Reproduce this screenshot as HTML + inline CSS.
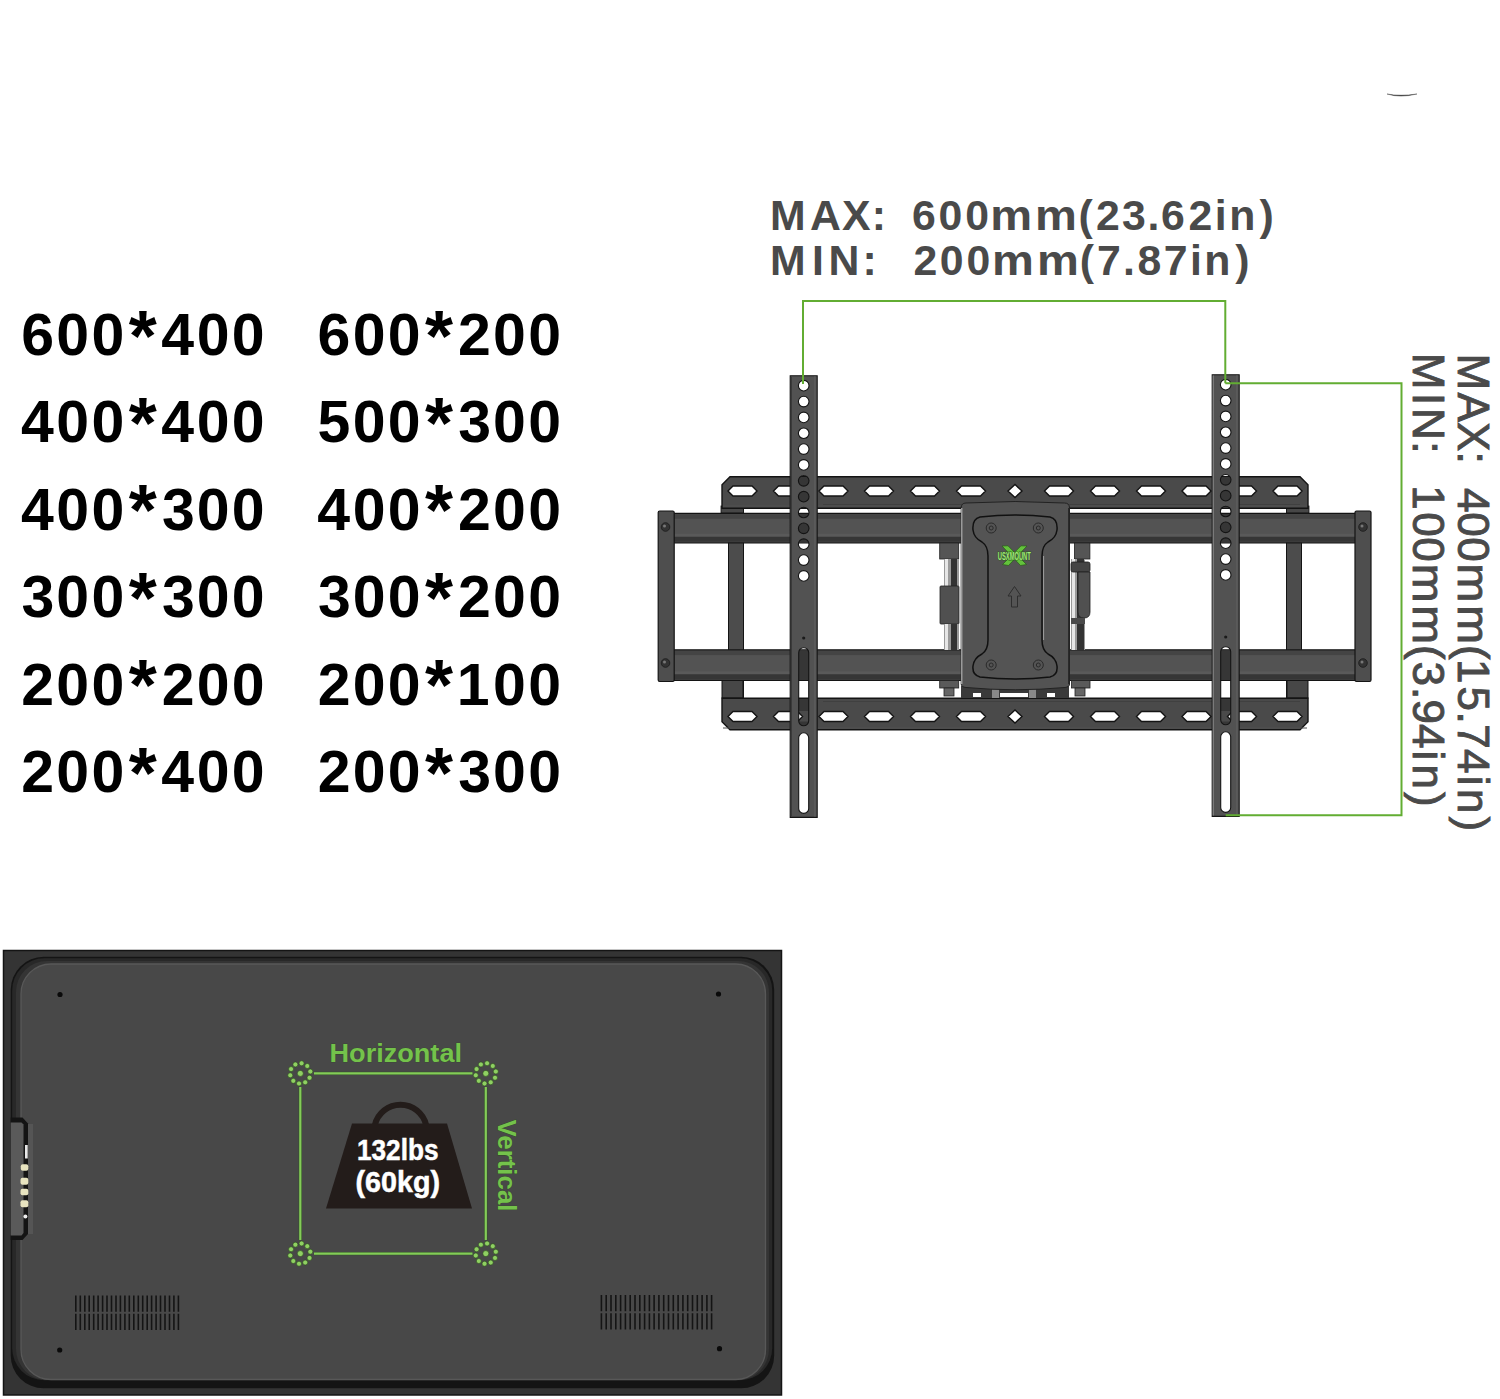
<!DOCTYPE html>
<html><head><meta charset="utf-8"><style>
html,body{margin:0;padding:0;background:#fff;width:1500px;height:1399px;overflow:hidden}
svg{position:absolute;left:0;top:0;display:block}
text{font-family:"Liberation Sans",sans-serif}
</style></head><body>
<svg width="1500" height="1399" viewBox="0 0 1500 1399">
<path d="M1387 94 Q1400 98.2 1417 94 Q1400 96.4 1387 94 Z" fill="#1e1e1e" stroke="#333" stroke-width="0.4"/>

<g font-weight="bold" fill="#000">
<text x="128.82" y="360.5" font-size="72">*</text>
<text x="21.18 56.34 91.44 161.31 196.74 231.84" y="355" font-size="59">600400</text>
<text x="425.12" y="360.5" font-size="72">*</text>
<text x="317.48 352.64 387.74 458.05 493.04 528.14" y="355" font-size="59">600200</text>
<text x="128.82" y="447.9" font-size="72">*</text>
<text x="20.91 56.34 91.44 161.31 196.74 231.84" y="442.4" font-size="59">400400</text>
<text x="425.12" y="447.9" font-size="72">*</text>
<text x="317.41 352.64 387.74 458.28 493.04 528.14" y="442.4" font-size="59">500300</text>
<text x="128.82" y="535.4" font-size="72">*</text>
<text x="20.91 56.34 91.44 161.98 196.74 231.84" y="529.9" font-size="59">400300</text>
<text x="425.12" y="535.4" font-size="72">*</text>
<text x="317.21 352.64 387.74 458.05 493.04 528.14" y="529.9" font-size="59">400200</text>
<text x="128.82" y="622.8" font-size="72">*</text>
<text x="21.58 56.34 91.44 161.98 196.74 231.84" y="617.3" font-size="59">300300</text>
<text x="425.12" y="622.8" font-size="72">*</text>
<text x="317.88 352.64 387.74 458.05 493.04 528.14" y="617.3" font-size="59">300200</text>
<text x="128.82" y="710.3" font-size="72">*</text>
<text x="21.35 56.34 91.44 161.75 196.74 231.84" y="704.8" font-size="59">200200</text>
<text x="425.12" y="710.3" font-size="72">*</text>
<text x="317.65 352.64 387.74 456.86 493.04 528.14" y="704.8" font-size="59">200100</text>
<text x="128.82" y="797.7" font-size="72">*</text>
<text x="21.35 56.34 91.44 161.31 196.74 231.84" y="792.2" font-size="59">200400</text>
<text x="425.12" y="797.7" font-size="72">*</text>
<text x="317.65 352.64 387.74 458.28 493.04 528.14" y="792.2" font-size="59">200300</text>
</g>
<g font-weight="bold" font-size="42.8" fill="#4a4a4a">
<text x="769.97 809.88 842.03 871.87 911.89 938.43 965.13 1078.53 1095.91 1122.08 1147.38 1161.09 1188.51 1214.78 1229.14 1259.62" y="229.8">MAX:600(23.62in)</text><text transform="translate(1011.30,229.8) scale(1.1,1)" x="-19.11" y="0">m</text><text transform="translate(1056.00,229.8) scale(1.1,1)" x="-19.11" y="0">m</text>
<text x="769.97 812.05 828.56 862.57 913.51 939.83 966.43 1079.83 1097.12 1123.08 1137.38 1163.82 1190.08 1204.14 1235.22" y="275.4">MIN:200(7.87in)</text><text transform="translate(1013.00,275.4) scale(1.1,1)" x="-19.11" y="0">m</text><text transform="translate(1058.00,275.4) scale(1.1,1)" x="-19.11" y="0">m</text>
</g>
<g font-size="44" fill="#4a4a4a" stroke="#4a4a4a" stroke-width="0.9">
<text transform="translate(1458,0) rotate(90) " x="353.57 392.53 421.89 451.39 487.90 512.16 537.26 644.94 658.96 686.41 711.39 724.24 748.90 775.72 788.93 816.41" y="0">MAX:400(15.74in)</text><text transform="translate(1458,0) rotate(90) translate(583.00,0) scale(1.06,1)" x="-18.34" y="0">m</text><text transform="translate(1458,0) rotate(90) translate(624.80,0) scale(1.06,1)" x="-18.34" y="0">m</text>
<text transform="translate(1413,0) rotate(90) " x="352.87 393.09 408.10 441.29 485.16 512.16 537.26 644.94 661.39 686.89 699.58 723.90 750.62 764.53 792.11" y="0">MIN:100(3.94in)</text><text transform="translate(1413,0) rotate(90) translate(583.30,0) scale(1.06,1)" x="-18.34" y="0">m</text><text transform="translate(1413,0) rotate(90) translate(624.80,0) scale(1.06,1)" x="-18.34" y="0">m</text>
</g>
<g id="mount">
<rect x="728.5" y="505" width="15" height="193" fill="#4c4c4c" stroke="#141414" stroke-width="1"/>
<rect x="1286.5" y="505" width="15" height="193" fill="#4c4c4c" stroke="#141414" stroke-width="1"/>
<rect x="722" y="680" width="21" height="18" fill="#474747" stroke="#141414" stroke-width="1"/>
<rect x="1287" y="680" width="21" height="18" fill="#474747" stroke="#141414" stroke-width="1"/>
<rect x="721" y="506" width="22.5" height="7" fill="#474747" stroke="#141414" stroke-width="0.8"/>
<rect x="1286.5" y="506" width="22.5" height="7" fill="#474747" stroke="#141414" stroke-width="0.8"/>
<path fill="#4a4a4a" stroke="#141414" stroke-width="1.4" fill-rule="evenodd" d="M730 476.8 H1300 L1308 484.8 V508.2 H722 V484.8 Z M728.0 491 L733.0 486 H752.0 L757.0 491 L752.0 496 H733.0 Z M1273.0 491 L1278.0 486 H1297.0 L1302.0 491 L1297.0 496 H1278.0 Z M773.5 491 L778.5 486 H797.5 L802.5 491 L797.5 496 H778.5 Z M1227.5 491 L1232.5 486 H1251.5 L1256.5 491 L1251.5 496 H1232.5 Z M819.0 491 L824.0 486 H843.0 L848.0 491 L843.0 496 H824.0 Z M1182.0 491 L1187.0 486 H1206.0 L1211.0 491 L1206.0 496 H1187.0 Z M864.5 491 L869.5 486 H888.5 L893.5 491 L888.5 496 H869.5 Z M1136.5 491 L1141.5 486 H1160.5 L1165.5 491 L1160.5 496 H1141.5 Z M910.5 491 L915.5 486 H934.5 L939.5 491 L934.5 496 H915.5 Z M1090.5 491 L1095.5 486 H1114.5 L1119.5 491 L1114.5 496 H1095.5 Z M956.5 491 L961.5 486 H980.5 L985.5 491 L980.5 496 H961.5 Z M1044.5 491 L1049.5 486 H1068.5 L1073.5 491 L1068.5 496 H1049.5 Z M1008 491 L1015 484.5 L1022 491 L1015 497.5 Z"/>
<path fill="#4a4a4a" stroke="#141414" stroke-width="1.4" fill-rule="evenodd" d="M722 698.2 H1308 V721.8 L1300 729.8 H730 L722 721.8 Z M728.0 716.5 L733.0 711.5 H752.0 L757.0 716.5 L752.0 721.5 H733.0 Z M1273.0 716.5 L1278.0 711.5 H1297.0 L1302.0 716.5 L1297.0 721.5 H1278.0 Z M773.5 716.5 L778.5 711.5 H797.5 L802.5 716.5 L797.5 721.5 H778.5 Z M1227.5 716.5 L1232.5 711.5 H1251.5 L1256.5 716.5 L1251.5 721.5 H1232.5 Z M819.0 716.5 L824.0 711.5 H843.0 L848.0 716.5 L843.0 721.5 H824.0 Z M1182.0 716.5 L1187.0 711.5 H1206.0 L1211.0 716.5 L1206.0 721.5 H1187.0 Z M864.5 716.5 L869.5 711.5 H888.5 L893.5 716.5 L888.5 721.5 H869.5 Z M1136.5 716.5 L1141.5 711.5 H1160.5 L1165.5 716.5 L1160.5 721.5 H1141.5 Z M910.5 716.5 L915.5 711.5 H934.5 L939.5 716.5 L934.5 721.5 H915.5 Z M1090.5 716.5 L1095.5 711.5 H1114.5 L1119.5 716.5 L1114.5 721.5 H1095.5 Z M956.5 716.5 L961.5 711.5 H980.5 L985.5 716.5 L980.5 721.5 H961.5 Z M1044.5 716.5 L1049.5 711.5 H1068.5 L1073.5 716.5 L1068.5 721.5 H1049.5 Z M1008 716.5 L1015 710.0 L1022 716.5 L1015 723.0 Z"/>
<path d="M823 504.5 H1300 M823 701.5 H1300" stroke="#404040" stroke-width="1.2"/>
<path d="M723 506 H1307 M723 728 H1307" stroke="#505050" stroke-width="1"/>
<rect x="672" y="513.4" width="685" height="29.4" fill="#535353"/>
<rect x="672" y="514.2" width="685" height="4.5" fill="#444"/>
<rect x="672" y="533.8" width="685" height="3" fill="#5a5a5a"/>
<rect x="672" y="536.8" width="685" height="5" fill="#363636"/>
<path d="M672 513.4 H1357 M672 542.8 H1357" stroke="#141414" stroke-width="1.3"/>
<rect x="672" y="649.8" width="685" height="30.5" fill="#535353"/>
<rect x="672" y="650.6" width="685" height="4.5" fill="#444"/>
<rect x="672" y="671.3" width="685" height="3" fill="#5a5a5a"/>
<rect x="672" y="674.3" width="685" height="5" fill="#363636"/>
<path d="M672 649.8 H1357 M672 680.3 H1357" stroke="#141414" stroke-width="1.3"/>
<rect x="658.2" y="511" width="16" height="170.5" rx="1.5" fill="#4e4e4e" stroke="#141414" stroke-width="1.2"/>
<rect x="1355" y="511" width="16" height="170.5" rx="1.5" fill="#4e4e4e" stroke="#141414" stroke-width="1.2"/>
<circle cx="665.5" cy="527" r="4.3" fill="#333" stroke="#1a1a1a" stroke-width="0.8"/><circle cx="664.5" cy="526" r="1.5" fill="#777"/>
<circle cx="665.5" cy="663" r="4.3" fill="#333" stroke="#1a1a1a" stroke-width="0.8"/><circle cx="664.5" cy="662" r="1.5" fill="#777"/>
<circle cx="1363" cy="527" r="4.3" fill="#333" stroke="#1a1a1a" stroke-width="0.8"/><circle cx="1362" cy="526" r="1.5" fill="#777"/>
<circle cx="1363" cy="663" r="4.3" fill="#333" stroke="#1a1a1a" stroke-width="0.8"/><circle cx="1362" cy="662" r="1.5" fill="#777"/>
<g id="hinges">
<rect x="939.7" y="543" width="19" height="16" fill="#555" stroke="#222" stroke-width="0.8"/>
<rect x="944" y="559" width="15" height="27" fill="#9a9a9a"/>
<rect x="945" y="559" width="3" height="27" fill="#e6e6e6"/>
<rect x="951" y="559" width="6" height="27" fill="#333"/>
<rect x="940" y="586" width="19" height="38" rx="1" fill="#505050" stroke="#222" stroke-width="0.8"/>
<rect x="944" y="624" width="15" height="26" fill="#9a9a9a"/>
<rect x="945" y="624" width="3" height="26" fill="#e6e6e6"/>
<rect x="951" y="624" width="6" height="26" fill="#333"/>
<rect x="939.7" y="680.5" width="19" height="7.5" fill="#5a5a5a" stroke="#222" stroke-width="0.8"/>
<rect x="944" y="688" width="10" height="8" fill="#666" stroke="#222" stroke-width="0.8"/>
<rect x="1074.4" y="543" width="15.5" height="16" fill="#555" stroke="#222" stroke-width="0.8"/>
<rect x="1071" y="559" width="14" height="91" fill="#9a9a9a"/>
<rect x="1072" y="559" width="3" height="91" fill="#e6e6e6"/>
<rect x="1077" y="559" width="7" height="91" fill="#333"/>
<rect x="1071" y="562" width="19" height="10" rx="2" fill="#444" stroke="#1e1e1e" stroke-width="0.8"/>
<path d="M1078 572 H1090 V612 Q1090 618 1084 618 Q1078 618 1078 612 Z" fill="#505050" stroke="#1e1e1e" stroke-width="0.8"/>
<rect x="1071" y="618" width="14" height="6" fill="#4a4a4a"/>
<rect x="1071.5" y="680.5" width="18.5" height="7.5" fill="#5a5a5a" stroke="#222" stroke-width="0.8"/>
<rect x="1075" y="688" width="10" height="8" fill="#666" stroke="#222" stroke-width="0.8"/>
<rect x="961" y="686" width="108" height="12" fill="#3a3a3a"/>
<rect x="973" y="693" width="8" height="4" fill="#fff"/>
<rect x="1000" y="693" width="28" height="4" fill="#fff"/>
<rect x="1047" y="693" width="8" height="4" fill="#fff"/>
<rect x="992" y="689" width="7" height="9" fill="#8a8a8a"/>
<rect x="1029" y="689" width="7" height="9" fill="#8a8a8a"/>
</g>
<g id="center">
<path d="M961.2 508 Q961.2 503 966 503 Q1015 500 1064.5 503 Q1069.5 503 1069.5 508 V684 Q1069.5 687 1065 687.5 Q1015 692 966 687.5 Q961.2 687 961.2 684 Z" fill="#535353" stroke="#222" stroke-width="1"/>
<path d="M961.8 508 V684" stroke="#c8c8c8" stroke-width="1"/>
<path d="M1068.6 508 V684" stroke="#2a2a2a" stroke-width="1.2"/>
<path d="M980 517 Q1015 513 1050 517 Q1058 519 1057 530 Q1056 538 1048 542 Q1042 546 1042 556 V640 Q1042 650 1048 654 Q1056 658 1057 666 Q1058 675 1050 677 Q1015 681 980 677 Q972 675 973 666 Q974 658 982 654 Q988 650 988 640 V556 Q988 546 982 542 Q974 538 973 530 Q972 519 980 517 Z" fill="#545454" stroke="#111" stroke-width="1.5"/>
<path d="M1043.6 556 V640" stroke="#aaa" stroke-width="0.9"/>
<g fill="none" stroke="#2a2a2a" stroke-width="1">
<circle cx="991.2" cy="528" r="5"/><circle cx="991.2" cy="528" r="2"/>
<circle cx="1038.3" cy="528" r="5"/><circle cx="1038.3" cy="528" r="2"/>
<circle cx="991.2" cy="665" r="5"/><circle cx="991.2" cy="665" r="2"/>
<circle cx="1038.3" cy="665" r="5"/><circle cx="1038.3" cy="665" r="2"/>
</g>
<g id="logo">
<path d="M1002 546 L1008 545.8 L1026.5 564.5 L1020.5 565.5 Z M1027 546 L1021 545.8 L1002.5 564.5 L1008.5 565.5 Z" fill="#63c23c" stroke="#2a5a1a" stroke-width="0.7"/>
<text transform="translate(1014.3,559.6) scale(0.55,1)" x="0" y="0" text-anchor="middle" font-size="10.5" font-weight="bold" fill="#a4ec7c" stroke="#2a5a1a" stroke-width="1.1" paint-order="stroke">USXMOUNT</text>
</g>
<path d="M1014.5 586.5 L1021 596 H1017.5 V607 H1011.5 V596 H1008 Z" fill="none" stroke="#2e2e2e" stroke-width="1"/>
</g>
<defs><clipPath id="platesclip"><rect x="700" y="477" width="640" height="31"/><rect x="700" y="514" width="640" height="28.5"/><rect x="700" y="650.5" width="640" height="29.5"/><rect x="700" y="699" width="640" height="12"/><rect x="700" y="721.5" width="640" height="8"/></clipPath></defs>
<g clip-path="url(#platesclip)" fill="#363636"><circle cx="804.1" cy="385.70" r="5.3"/><circle cx="804.1" cy="401.55" r="5.3"/><circle cx="804.1" cy="417.40" r="5.3"/><circle cx="804.1" cy="433.25" r="5.3"/><circle cx="804.1" cy="449.10" r="5.3"/><circle cx="804.1" cy="464.95" r="5.3"/><circle cx="804.1" cy="480.80" r="5.3"/><circle cx="804.1" cy="496.65" r="5.3"/><circle cx="804.1" cy="512.50" r="5.3"/><circle cx="804.1" cy="528.35" r="5.3"/><circle cx="804.1" cy="544.20" r="5.3"/><circle cx="804.1" cy="560.05" r="5.3"/><circle cx="804.1" cy="575.90" r="5.3"/><rect x="798.7" y="647.7" width="10" height="78.1" rx="5"/><rect x="798.7" y="732.8" width="10" height="80.6" rx="5"/><circle cx="1226.1000000000001" cy="384.70" r="5.3"/><circle cx="1226.1000000000001" cy="400.55" r="5.3"/><circle cx="1226.1000000000001" cy="416.40" r="5.3"/><circle cx="1226.1000000000001" cy="432.25" r="5.3"/><circle cx="1226.1000000000001" cy="448.10" r="5.3"/><circle cx="1226.1000000000001" cy="463.95" r="5.3"/><circle cx="1226.1000000000001" cy="479.80" r="5.3"/><circle cx="1226.1000000000001" cy="495.65" r="5.3"/><circle cx="1226.1000000000001" cy="511.50" r="5.3"/><circle cx="1226.1000000000001" cy="527.35" r="5.3"/><circle cx="1226.1000000000001" cy="543.20" r="5.3"/><circle cx="1226.1000000000001" cy="559.05" r="5.3"/><circle cx="1226.1000000000001" cy="574.90" r="5.3"/><rect x="1220.7" y="646.7" width="10" height="78.1" rx="5"/><rect x="1220.7" y="731.8" width="10" height="80.6" rx="5"/></g>
<g id="straps"><path fill="#525252" stroke="#141414" stroke-width="1.1" fill-rule="evenodd" d="M790.2 375.7 H817.2 V817.4 H790.2 Z M809.00 385.70 A5.3 5.3 0 1 0 798.40 385.70 A5.3 5.3 0 1 0 809.00 385.70 Z M809.00 401.55 A5.3 5.3 0 1 0 798.40 401.55 A5.3 5.3 0 1 0 809.00 401.55 Z M809.00 417.40 A5.3 5.3 0 1 0 798.40 417.40 A5.3 5.3 0 1 0 809.00 417.40 Z M809.00 433.25 A5.3 5.3 0 1 0 798.40 433.25 A5.3 5.3 0 1 0 809.00 433.25 Z M809.00 449.10 A5.3 5.3 0 1 0 798.40 449.10 A5.3 5.3 0 1 0 809.00 449.10 Z M809.00 464.95 A5.3 5.3 0 1 0 798.40 464.95 A5.3 5.3 0 1 0 809.00 464.95 Z M809.00 480.80 A5.3 5.3 0 1 0 798.40 480.80 A5.3 5.3 0 1 0 809.00 480.80 Z M809.00 496.65 A5.3 5.3 0 1 0 798.40 496.65 A5.3 5.3 0 1 0 809.00 496.65 Z M809.00 512.50 A5.3 5.3 0 1 0 798.40 512.50 A5.3 5.3 0 1 0 809.00 512.50 Z M809.00 528.35 A5.3 5.3 0 1 0 798.40 528.35 A5.3 5.3 0 1 0 809.00 528.35 Z M809.00 544.20 A5.3 5.3 0 1 0 798.40 544.20 A5.3 5.3 0 1 0 809.00 544.20 Z M809.00 560.05 A5.3 5.3 0 1 0 798.40 560.05 A5.3 5.3 0 1 0 809.00 560.05 Z M809.00 575.90 A5.3 5.3 0 1 0 798.40 575.90 A5.3 5.3 0 1 0 809.00 575.90 Z M798.70 652.70 A5 5 0 0 1 808.70 652.70 V720.80 A5 5 0 0 1 798.70 720.80 Z M798.70 737.80 A5 5 0 0 1 808.70 737.80 V808.40 A5 5 0 0 1 798.70 808.40 Z "/><path d="M791.3 376.5 V816.5" stroke="#3a3a3a" stroke-width="1.4"/><path d="M814.9 376.5 V816.5" stroke="#5a5a5a" stroke-width="2"/><circle cx="803.7" cy="638" r="1.6" fill="#1a1a1a"/><path fill="#525252" stroke="#141414" stroke-width="1.1" fill-rule="evenodd" d="M1212.2 374.7 H1239.2 V816.4 H1212.2 Z M1231.00 384.70 A5.3 5.3 0 1 0 1220.40 384.70 A5.3 5.3 0 1 0 1231.00 384.70 Z M1231.00 400.55 A5.3 5.3 0 1 0 1220.40 400.55 A5.3 5.3 0 1 0 1231.00 400.55 Z M1231.00 416.40 A5.3 5.3 0 1 0 1220.40 416.40 A5.3 5.3 0 1 0 1231.00 416.40 Z M1231.00 432.25 A5.3 5.3 0 1 0 1220.40 432.25 A5.3 5.3 0 1 0 1231.00 432.25 Z M1231.00 448.10 A5.3 5.3 0 1 0 1220.40 448.10 A5.3 5.3 0 1 0 1231.00 448.10 Z M1231.00 463.95 A5.3 5.3 0 1 0 1220.40 463.95 A5.3 5.3 0 1 0 1231.00 463.95 Z M1231.00 479.80 A5.3 5.3 0 1 0 1220.40 479.80 A5.3 5.3 0 1 0 1231.00 479.80 Z M1231.00 495.65 A5.3 5.3 0 1 0 1220.40 495.65 A5.3 5.3 0 1 0 1231.00 495.65 Z M1231.00 511.50 A5.3 5.3 0 1 0 1220.40 511.50 A5.3 5.3 0 1 0 1231.00 511.50 Z M1231.00 527.35 A5.3 5.3 0 1 0 1220.40 527.35 A5.3 5.3 0 1 0 1231.00 527.35 Z M1231.00 543.20 A5.3 5.3 0 1 0 1220.40 543.20 A5.3 5.3 0 1 0 1231.00 543.20 Z M1231.00 559.05 A5.3 5.3 0 1 0 1220.40 559.05 A5.3 5.3 0 1 0 1231.00 559.05 Z M1231.00 574.90 A5.3 5.3 0 1 0 1220.40 574.90 A5.3 5.3 0 1 0 1231.00 574.90 Z M1220.70 651.70 A5 5 0 0 1 1230.70 651.70 V719.80 A5 5 0 0 1 1220.70 719.80 Z M1220.70 736.80 A5 5 0 0 1 1230.70 736.80 V807.40 A5 5 0 0 1 1220.70 807.40 Z "/><path d="M1213.3 375.5 V815.5" stroke="#7a7a7a" stroke-width="1.4"/><path d="M1236.9 375.5 V815.5" stroke="#5a5a5a" stroke-width="2"/><circle cx="1225.7" cy="637" r="1.6" fill="#1a1a1a"/></g>
</g>
<g stroke="#62ad32" stroke-width="2" fill="none">
<path d="M803 384 V301 H1225.3 V383.3"/>
<path d="M1225.3 383.3 H1401.5 V815.2 H1225.7"/>
</g>
<!-- TV back -->
<rect x="3.5" y="950" width="778" height="445" fill="#343434"/>
<path d="M3.5 950.5 H781.5 V1395 H3.5 Z" fill="none" stroke="#141414" stroke-width="1.5"/>
<rect x="10.7" y="956.8" width="763.5" height="431.5" rx="33" fill="#141414"/>
<rect x="12.2" y="958.3" width="760" height="422" rx="32" fill="#282828"/>
<rect x="16" y="961" width="753" height="419" rx="31" fill="#343434"/>
<rect x="21" y="964" width="744.5" height="415.5" rx="30" fill="#484848" stroke="#585858" stroke-width="1.3"/>
<g fill="#0a0a0a">
<circle cx="60" cy="994.5" r="2.6"/><circle cx="718.5" cy="994" r="2.6"/>
<circle cx="59.7" cy="1350" r="2.6"/><circle cx="719.5" cy="1348.7" r="2.6"/>
</g>
<path d="M75.8 1295.5 V1311.8 M75.8 1313.8 V1330 M80.3 1295.5 V1311.8 M80.3 1313.8 V1330 M84.8 1295.5 V1311.8 M84.8 1313.8 V1330 M89.2 1295.5 V1311.8 M89.2 1313.8 V1330 M93.7 1295.5 V1311.8 M93.7 1313.8 V1330 M98.1 1295.5 V1311.8 M98.1 1313.8 V1330 M102.6 1295.5 V1311.8 M102.6 1313.8 V1330 M107.0 1295.5 V1311.8 M107.0 1313.8 V1330 M111.5 1295.5 V1311.8 M111.5 1313.8 V1330 M116.0 1295.5 V1311.8 M116.0 1313.8 V1330 M120.4 1295.5 V1311.8 M120.4 1313.8 V1330 M124.9 1295.5 V1311.8 M124.9 1313.8 V1330 M129.3 1295.5 V1311.8 M129.3 1313.8 V1330 M133.8 1295.5 V1311.8 M133.8 1313.8 V1330 M138.3 1295.5 V1311.8 M138.3 1313.8 V1330 M142.7 1295.5 V1311.8 M142.7 1313.8 V1330 M147.2 1295.5 V1311.8 M147.2 1313.8 V1330 M151.6 1295.5 V1311.8 M151.6 1313.8 V1330 M156.1 1295.5 V1311.8 M156.1 1313.8 V1330 M160.5 1295.5 V1311.8 M160.5 1313.8 V1330 M165.0 1295.5 V1311.8 M165.0 1313.8 V1330 M169.5 1295.5 V1311.8 M169.5 1313.8 V1330 M173.9 1295.5 V1311.8 M173.9 1313.8 V1330 M178.4 1295.5 V1311.8 M178.4 1313.8 V1330 " stroke="#141414" stroke-width="1.6"/><path d="M601.4 1295 V1311.2 M601.4 1313.2 V1329.5 M606.2 1295 V1311.2 M606.2 1313.2 V1329.5 M611.0 1295 V1311.2 M611.0 1313.2 V1329.5 M615.8 1295 V1311.2 M615.8 1313.2 V1329.5 M620.6 1295 V1311.2 M620.6 1313.2 V1329.5 M625.4 1295 V1311.2 M625.4 1313.2 V1329.5 M630.2 1295 V1311.2 M630.2 1313.2 V1329.5 M635.0 1295 V1311.2 M635.0 1313.2 V1329.5 M639.8 1295 V1311.2 M639.8 1313.2 V1329.5 M644.6 1295 V1311.2 M644.6 1313.2 V1329.5 M649.4 1295 V1311.2 M649.4 1313.2 V1329.5 M654.1 1295 V1311.2 M654.1 1313.2 V1329.5 M658.9 1295 V1311.2 M658.9 1313.2 V1329.5 M663.7 1295 V1311.2 M663.7 1313.2 V1329.5 M668.5 1295 V1311.2 M668.5 1313.2 V1329.5 M673.3 1295 V1311.2 M673.3 1313.2 V1329.5 M678.1 1295 V1311.2 M678.1 1313.2 V1329.5 M682.9 1295 V1311.2 M682.9 1313.2 V1329.5 M687.7 1295 V1311.2 M687.7 1313.2 V1329.5 M692.5 1295 V1311.2 M692.5 1313.2 V1329.5 M697.3 1295 V1311.2 M697.3 1313.2 V1329.5 M702.1 1295 V1311.2 M702.1 1313.2 V1329.5 M706.9 1295 V1311.2 M706.9 1313.2 V1329.5 M711.6 1295 V1311.2 M711.6 1313.2 V1329.5 " stroke="#141414" stroke-width="1.6"/>
<!-- connector notch -->
<path d="M10.7 1117.5 H22.5 L28 1123.5 V1234 L22.5 1240 H10.7 Z" fill="#141414"/>
<path d="M10.7 1122.5 H21.5 L23.5 1124.5 V1233 L21.5 1235.5 H10.7 Z" fill="#5a5a5a"/>
<rect x="28" y="1124" width="5" height="110" fill="#555"/>
<rect x="25" y="1145" width="2.7" height="13.5" fill="#e8e8e8"/>
<g fill="#e8e4c0">
<rect x="20.8" y="1164.3" width="7.5" height="6.4" rx="2"/>
<rect x="20.5" y="1177.8" width="7.8" height="7" rx="2"/>
<rect x="20.5" y="1188.7" width="7.8" height="6.5" rx="2"/>
<rect x="20.5" y="1200.3" width="7.8" height="7" rx="2"/>
</g>
<circle cx="25.4" cy="1216.4" r="2" fill="#eee"/>

<g fill="#74c24b" stroke="#2f4a22" stroke-width="0.6" paint-order="stroke">
<text x="329.5" y="1062.2" font-size="26.5" font-weight="bold" textLength="132.5" lengthAdjust="spacingAndGlyphs">Horizontal</text>
<text transform="translate(497.5,1119.5) rotate(90)" font-size="26.5" font-weight="bold" textLength="92" lengthAdjust="spacingAndGlyphs">Vertical</text>
</g>
<g fill="none"><path d="M314 1073.4 H472.5 M300.3 1087 V1240 M485.8 1087 V1240 M314 1253.6 H472.5" stroke="#33502a" stroke-width="3.4"/><path d="M314 1073.4 H472.5 M300.3 1087 V1240 M485.8 1087 V1240 M314 1253.6 H472.5" stroke="#84cb58" stroke-width="2.2"/></g>
<g fill="#8fd062" stroke="#2a4a1c" stroke-width="0.6"><circle cx="309.53" cy="1077.74" r="2.5"/><circle cx="305.21" cy="1082.34" r="2.5"/><circle cx="299.02" cy="1083.52" r="2.5"/><circle cx="293.32" cy="1080.83" r="2.5"/><circle cx="290.28" cy="1075.31" r="2.5"/><circle cx="291.07" cy="1069.06" r="2.5"/><circle cx="295.39" cy="1064.46" r="2.5"/><circle cx="301.58" cy="1063.28" r="2.5"/><circle cx="307.28" cy="1065.97" r="2.5"/><circle cx="310.32" cy="1071.49" r="2.5"/><circle cx="300.3" cy="1073.4" r="3"/><circle cx="495.03" cy="1077.74" r="2.5"/><circle cx="490.71" cy="1082.34" r="2.5"/><circle cx="484.52" cy="1083.52" r="2.5"/><circle cx="478.82" cy="1080.83" r="2.5"/><circle cx="475.78" cy="1075.31" r="2.5"/><circle cx="476.57" cy="1069.06" r="2.5"/><circle cx="480.89" cy="1064.46" r="2.5"/><circle cx="487.08" cy="1063.28" r="2.5"/><circle cx="492.78" cy="1065.97" r="2.5"/><circle cx="495.82" cy="1071.49" r="2.5"/><circle cx="485.8" cy="1073.4" r="3"/><circle cx="309.53" cy="1257.94" r="2.5"/><circle cx="305.21" cy="1262.54" r="2.5"/><circle cx="299.02" cy="1263.72" r="2.5"/><circle cx="293.32" cy="1261.03" r="2.5"/><circle cx="290.28" cy="1255.51" r="2.5"/><circle cx="291.07" cy="1249.26" r="2.5"/><circle cx="295.39" cy="1244.66" r="2.5"/><circle cx="301.58" cy="1243.48" r="2.5"/><circle cx="307.28" cy="1246.17" r="2.5"/><circle cx="310.32" cy="1251.69" r="2.5"/><circle cx="300.3" cy="1253.6" r="3"/><circle cx="495.03" cy="1257.94" r="2.5"/><circle cx="490.71" cy="1262.54" r="2.5"/><circle cx="484.52" cy="1263.72" r="2.5"/><circle cx="478.82" cy="1261.03" r="2.5"/><circle cx="475.78" cy="1255.51" r="2.5"/><circle cx="476.57" cy="1249.26" r="2.5"/><circle cx="480.89" cy="1244.66" r="2.5"/><circle cx="487.08" cy="1243.48" r="2.5"/><circle cx="492.78" cy="1246.17" r="2.5"/><circle cx="495.82" cy="1251.69" r="2.5"/><circle cx="485.8" cy="1253.6" r="3"/></g>
<path d="M374.9 1125 A26.3 26.3 0 0 1 426.1 1125" fill="none" stroke="#231c1a" stroke-width="6"/>
<path d="M352 1123.6 H447 L472 1208.4 H326 Z" fill="#231c1a"/>
<g fill="#fff" stroke="#fff" stroke-width="0.5" font-weight="bold" font-size="29">
<text x="357" y="1160" textLength="81.5" lengthAdjust="spacingAndGlyphs">132lbs</text>
<text x="355.5" y="1192" textLength="84.5" lengthAdjust="spacingAndGlyphs">(60kg)</text>
</g>
</svg>
</body></html>
